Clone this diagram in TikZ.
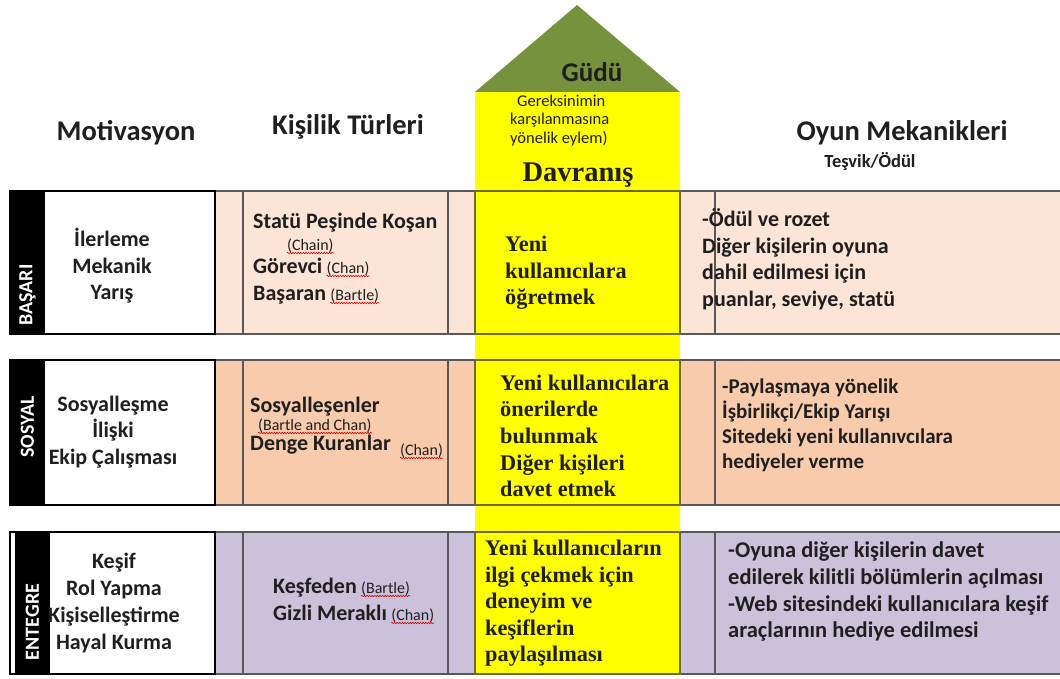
\documentclass[tikz,border=0pt]{standalone}
\usepackage{fontspec}
\setmainfont{Carlito}
\newfontfamily\serifbold{Liberation Serif}[BoldFont={* Bold}]
\usetikzlibrary{decorations.pathmorphing}

\definecolor{rowA}{HTML}{FCE4D6}
\definecolor{rowB}{HTML}{F8CBAD}
\definecolor{rowC}{HTML}{CCC1DA}
\definecolor{bandline}{HTML}{595959}
\definecolor{ylw}{HTML}{FFFF00}
\definecolor{ylwline}{HTML}{6B6B2B}
\definecolor{roof}{HTML}{76923C}
\definecolor{ink}{HTML}{1F1F1F}

\tikzset{
  band/.style={draw=bandline, line width=1.8pt},
  innerbox/.style={draw=bandline, line width=1.8pt},
  ybox/.style={draw=ylwline, line width=1.8pt, fill=ylw},
  labelbox/.style={draw=black, line width=2.2pt, fill=white},
  head/.style={font=\fontsize{28.5}{31}\selectfont\bfseries, text=ink, inner sep=0pt},
  rowtxt/.style={font=\fontsize{22}{26.5}\selectfont\bfseries, text=ink, inner sep=0pt},
  kistxt/.style={font=\fontsize{22}{26.5}\selectfont\bfseries, text=ink, inner sep=0pt, anchor=base west},
  paren/.style={font=\fontsize{16}{18}\selectfont, text=ink, inner sep=0pt, anchor=base west},
  serifrow/.style={font=\serifbold\fontsize{22.3}{26.6}\selectfont\bfseries, text=ink, inner sep=0pt, align=left, anchor=west},
  vlabel/.style={font=\fontsize{20}{22}\selectfont\bfseries, text=white, rotate=90, inner sep=0pt},
  squig/.style={draw=red!85!black, line width=0.6pt, decorate,
                decoration={snake, amplitude=0.7pt, segment length=2.6pt}}
}

\begin{document}
\begin{tikzpicture}[x=1pt,y=-1pt]
\useasboundingbox (0,0) rectangle (1060,678);

% ---------- coloured row bands ----------
\fill[rowA] (215,191) rectangle (1060,334);
\fill[rowB] (215,360) rectangle (1060,505);
\fill[rowC] (215,532) rectangle (1060,674);
\foreach \t/\b in {191/334, 360/505, 532/674}{
  \draw[band] (215,\t) -- (1060,\t);
  \draw[band] (215,\b) -- (1060,\b);
  % personality and game-mechanics boxes
  \draw[innerbox] (243,\t) rectangle (448,\b);
  \draw[innerbox] (1062,\t) -- (715,\t) -- (715,\b) -- (1062,\b);
}

% ---------- behaviour column with its roof ----------
\fill[roof] (475,92) -- (577,5) -- (680,92) -- cycle;
\fill[ylw] (475,92) rectangle (680,674);
\draw[ybox] (475,191) rectangle (680,334);
\draw[ybox] (475,360) rectangle (680,505);
\draw[ybox] (475,532) rectangle (680,674);

% ---------- motivation boxes with dark side labels ----------
\draw[labelbox] (10,191) rectangle (215,334);
\fill[black] (10,191) rectangle (45,334);
\draw[labelbox] (10,360) rectangle (215,505);
\fill[black] (10,360) rectangle (45,505);
\draw[labelbox] (10,532) rectangle (215,674);
\fill[black] (15,532) rectangle (50,674);

\node[vlabel] (lab1) at (27.5,295) {BAŞARI};
\node[vlabel] (lab2) at (27.5,427) {SOSYAL};
\node[vlabel] (lab3) at (32.5,622) {ENTEGRE};

% ---------- column headings ----------
\node[head] (hmot) at (126,133) {Motivasyon};
\node[head] (hkis) at (348,127) {Kişilik Türleri};
\node[head] (hoyun) at (902,133) {Oyun Mekanikleri};
\node[font=\fontsize{18.5}{20}\selectfont\bfseries, text=ink, inner sep=0pt] (htesvik) at (870,162) {Teşvik/Ödül};
\node[font=\fontsize{27}{30}\selectfont\bfseries, text=ink, inner sep=0pt] (gudu) at (592,72) {Güdü};
\node[font=\fontsize{16.5}{18.5}\selectfont, text=ink, inner sep=0pt, align=left, anchor=base west] (gerek) at (510,143)
  {\hspace*{7pt}Gereksinimin\\karşılanmasına\\yönelik eylem)};
\node[font=\serifbold\fontsize{28.5}{31}\selectfont\bfseries, text=ink, inner sep=0pt] (davr) at (578,175) {Davranış};

% ---------- row 1 ----------
\node[rowtxt, align=center] (mot1) at (112,266) {İlerleme\\Mekanik\\Yarış};
\node[kistxt] (k1a) at (253,228) {Statü Peşinde Koşan};
\node[paren] (k1b) at (287,250) {(Chain)};
\node[kistxt] (k1c) at (253,273) {Görevci};
\node[paren] (k1cp) at ([xshift=4pt]k1c.base east) {(Chan)};
\node[kistxt] (k1d) at (253,300) {Başaran};
\node[paren] (k1dp) at ([xshift=4pt]k1d.base east) {(Bartle)};
\node[serifrow] (y1) at (505,273) {Yeni\\kullanıcılara\\öğretmek};
\node[rowtxt, align=left, anchor=west] (m1) at (702,259.5)
  {-Ödül ve rozet\\Diğer kişilerin oyuna\\dahil edilmesi için\\puanlar, seviye, statü};

% ---------- row 2 ----------
\node[rowtxt, align=center] (mot2) at (113,432) {Sosyalleşme\\İlişki\\Ekip Çalışması};
\node[kistxt] (k2a) at (250,412) {Sosyalleşenler};
\node[paren] (k2b) at (258,430) {(Bartle and Chan)};
\node[kistxt] (k2c) at (250,450) {Denge Kuranlar};
\node[paren] (k2d) at (400,455) {(Chan)};
\node[serifrow] (y2) at (500,435.8)
  {Yeni kullanıcılara\\önerilerde\\bulunmak\\Diğer kişileri\\davet etmek};
\node[rowtxt, align=left, anchor=west, font=\fontsize{21}{25}\selectfont\bfseries] (m2) at (722,425.5)
  {-Paylaşmaya yönelik\\İşbirlikçi/Ekip Yarışı\\Sitedeki yeni kullanıvcılara\\hediyeler verme};

% ---------- row 3 ----------
\node[rowtxt, align=center, font=\fontsize{22}{26.7}\selectfont\bfseries] (mot3) at (114,603)
  {Keşif\\Rol Yapma\\Kişiselleştirme\\Hayal Kurma};
\node[kistxt] (k3a) at (273,593) {Keşfeden};
\node[paren] (k3ap) at ([xshift=4pt]k3a.base east) {(Bartle)};
\node[kistxt] (k3b) at (273,620) {Gizli Meraklı};
\node[paren] (k3bp) at ([xshift=4pt]k3b.base east) {(Chan)};
\node[serifrow] (y3) at (485,603.4)
  {Yeni kullanıcıların\\ilgi çekmek için\\deneyim ve\\keşiflerin\\paylaşılması};
\node[rowtxt, align=left, anchor=west, font=\fontsize{22.5}{26.7}\selectfont\bfseries] (m3) at (728,591.75)
  {-Oyuna diğer kişilerin davet\\edilerek kilitli bölümlerin açılması\\-Web sitesindeki kullanıcılara keşif\\araçlarının hediye edilmesi};

% ---------- spelling marks under the author names ----------
\foreach \n in {k1b,k1cp,k1dp,k2b,k2d,k3ap,k3bp}{
  \draw[squig] ([yshift=-3pt]\n.base west) -- ([yshift=-3pt]\n.base east);
}
\end{tikzpicture}
\end{document}
